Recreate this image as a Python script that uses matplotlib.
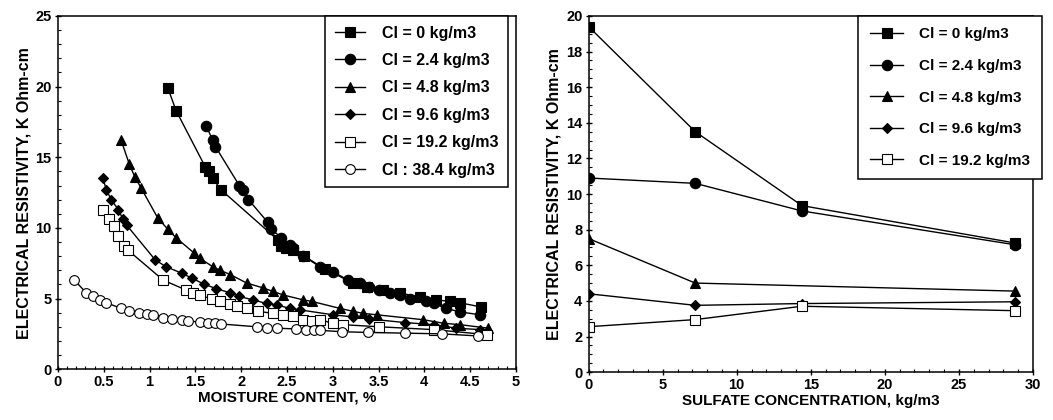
import matplotlib.pyplot as plt
from matplotlib.ticker import MultipleLocator

plt.rcParams['font.family'] = ['Liberation Sans', 'DejaVu Sans']
plt.rcParams['font.weight'] = 'bold'

# left panel: resistivity vs moisture content
x_cl0 = [1.20, 1.29, 1.61, 1.65, 1.69, 1.78, 2.40, 2.44, 2.49, 2.57, 2.69, 2.91, 3.22, 3.37,
         3.55, 3.73, 3.95, 4.13, 4.28, 4.39, 4.62]
y_cl0 = [19.9, 18.3, 14.3, 14.0, 13.5, 12.7, 9.15, 8.7, 8.6, 8.4, 8.0, 7.1, 6.1, 5.85,
         5.6, 5.4, 5.1, 4.9, 4.8, 4.7, 4.4]

x_cl24 = [1.62, 1.69, 1.72, 1.98, 2.02, 2.08, 2.29, 2.33, 2.44, 2.53, 2.57, 2.68, 2.86, 3.00,
          3.17, 3.30, 3.40, 3.51, 3.62, 3.73, 3.84, 4.02, 4.10, 4.24, 4.39, 4.61]
y_cl24 = [17.2, 16.2, 15.75, 13.0, 12.7, 12.0, 10.4, 9.9, 9.3, 8.8, 8.55, 8.0, 7.25, 6.9,
          6.3, 6.1, 5.85, 5.6, 5.4, 5.25, 5.0, 4.8, 4.65, 4.3, 4.05, 3.85]

x_cl48 = [0.69, 0.78, 0.84, 0.91, 1.09, 1.20, 1.29, 1.49, 1.55, 1.69, 1.77, 1.88, 2.06, 2.24,
          2.35, 2.46, 2.68, 2.77, 3.08, 3.22, 3.33, 3.48, 3.99, 4.21, 4.39, 4.70]
y_cl48 = [16.2, 14.5, 13.6, 12.8, 10.7, 9.9, 9.3, 8.2, 7.85, 7.25, 7.0, 6.7, 6.1, 5.75,
          5.5, 5.25, 4.9, 4.8, 4.3, 4.1, 3.95, 3.85, 3.5, 3.25, 3.15, 2.9]

x_cl96 = [0.49, 0.53, 0.58, 0.66, 0.71, 0.75, 1.06, 1.18, 1.35, 1.46, 1.60, 1.73, 1.88, 1.98,
          2.13, 2.28, 2.39, 2.53, 2.64, 3.00, 3.22, 3.40, 3.79, 4.10, 4.35, 4.61]
y_cl96 = [13.5, 12.7, 12.0, 11.3, 10.6, 10.2, 7.75, 7.25, 6.8, 6.45, 6.0, 5.7, 5.4, 5.15,
          4.9, 4.65, 4.55, 4.3, 4.2, 3.85, 3.7, 3.55, 3.3, 3.15, 2.9, 2.8]

x_cl192 = [0.49, 0.56, 0.61, 0.66, 0.72, 0.76, 1.15, 1.40, 1.47, 1.55, 1.68, 1.77, 1.88, 1.95,
           2.06, 2.18, 2.35, 2.46, 2.57, 2.68, 2.77, 2.86, 3.00, 3.11, 3.51, 4.10, 4.68]
y_cl192 = [11.3, 10.6, 10.1, 9.4, 8.7, 8.45, 6.3, 5.6, 5.4, 5.25, 4.95, 4.8, 4.6, 4.5,
           4.3, 4.1, 3.95, 3.85, 3.75, 3.5, 3.4, 3.5, 3.25, 3.15, 3.0, 2.8, 2.45]

x_cl384 = [0.18, 0.31, 0.38, 0.46, 0.53, 0.69, 0.78, 0.89, 0.97, 1.04, 1.15, 1.24, 1.35, 1.42,
           1.55, 1.64, 1.71, 1.78, 2.17, 2.28, 2.39, 2.60, 2.71, 2.79, 2.86, 3.10, 3.39, 3.79,
           4.19, 4.59]
y_cl384 = [6.3, 5.4, 5.15, 4.9, 4.7, 4.3, 4.15, 3.95, 3.9, 3.85, 3.6, 3.55, 3.45, 3.4,
           3.35, 3.3, 3.25, 3.2, 3.0, 2.95, 2.9, 2.85, 2.8, 2.75, 2.75, 2.65, 2.6, 2.55,
           2.5, 2.35]

# right panel: resistivity vs sulfate concentration
sulfate = [0, 7.2, 14.4, 28.8]
r_cl0 = [19.4, 13.5, 9.35, 7.25]
r_cl24 = [10.9, 10.6, 9.05, 7.15]
sulfate_cl48 = [0, 7.2, 28.8]
r_cl48 = [7.5, 5.0, 4.55]
r_cl96 = [4.4, 3.75, 3.85, 3.95]
r_cl192 = [2.55, 2.95, 3.7, 3.45]

labels = ['Cl = 0 kg/m3', 'Cl = 2.4 kg/m3', 'Cl = 4.8 kg/m3', 'Cl = 9.6 kg/m3',
          'Cl = 19.2 kg/m3', 'Cl : 38.4 kg/m3']

styles = [dict(marker='s', ms=7, mfc='black'),
          dict(marker='o', ms=7.5, mfc='black'),
          dict(marker='^', ms=6.5, mfc='black'),
          dict(marker='D', ms=4.8, mfc='black'),
          dict(marker='s', ms=7, mfc='white'),
          dict(marker='o', ms=7, mfc='white')]

fig = plt.figure(figsize=(10.53, 4.2), dpi=100)
ax1 = fig.add_axes([0.055, 0.121, 0.435, 0.841])
ax2 = fig.add_axes([0.559, 0.114, 0.422, 0.848])

left_x = [x_cl0, x_cl24, x_cl48, x_cl96, x_cl192, x_cl384]
left_y = [y_cl0, y_cl24, y_cl48, y_cl96, y_cl192, y_cl384]
for xs, ys, lab, st in zip(left_x, left_y, labels, styles):
    ax1.plot(xs, ys, color='black', lw=1, mec='black', mew=0.8, label=lab, **st)

right_x = [sulfate, sulfate, sulfate_cl48, sulfate, sulfate]
right_y = [r_cl0, r_cl24, r_cl48, r_cl96, r_cl192]
for xs, ys, lab, st in zip(right_x, right_y, labels[:5], styles[:5]):
    ax2.plot(xs, ys, color='black', lw=1, mec='black', mew=0.8, label=lab, **st)

ax1.set_xlim(0, 5)
ax1.set_ylim(0, 25)
ax1.xaxis.set_minor_locator(MultipleLocator(0.1))
ax1.yaxis.set_major_locator(MultipleLocator(5))
ax1.yaxis.set_minor_locator(MultipleLocator(1))
ax1.set_xticks([0, 0.5, 1, 1.5, 2, 2.5, 3, 3.5, 4, 4.5, 5])
ax1.set_xticklabels(['0', '0.5', '1', '1.5', '2', '2.5', '3', '3.5', '4', '4.5', '5'])
ax1.set_xlabel('MOISTURE CONTENT, %', fontsize=11, fontweight='bold', labelpad=1)
ax1.set_ylabel('ELECTRICAL RESISTIVITY, K Ohm-cm', fontsize=11.5, fontweight='bold', labelpad=3)

ax2.set_xlim(0, 30)
ax2.set_ylim(0, 20)
ax2.xaxis.set_major_locator(MultipleLocator(5))
ax2.xaxis.set_minor_locator(MultipleLocator(1))
ax2.yaxis.set_major_locator(MultipleLocator(2))
ax2.yaxis.set_minor_locator(MultipleLocator(0.5))
ax2.set_xlabel('SULFATE CONCENTRATION, kg/m3', fontsize=11, fontweight='bold', labelpad=1)
ax2.set_ylabel('ELECTRICAL RESISTIVITY, K Ohm-cm', fontsize=11.5, fontweight='bold', labelpad=3)

for ax in (ax1, ax2):
    ax.tick_params(which='major', direction='inout', length=5, width=1, labelsize=10.5, pad=2)
    ax.tick_params(which='minor', direction='in', length=2.5, width=0.8)
    for sp in ax.spines.values():
        sp.set_linewidth(1.1)
    for t in ax.get_xticklabels() + ax.get_yticklabels():
        t.set_fontweight('bold')

leg1 = ax1.legend(loc='upper right', bbox_to_anchor=(0.983, 1.0), borderaxespad=0,
                  fancybox=False, edgecolor='black', framealpha=1, handlelength=1.9,
                  labelspacing=0.78, borderpad=0.6, handletextpad=1.05,
                  prop=dict(weight='bold', size=11.5))
leg1.get_frame().set_linewidth(1.1)

leg2 = ax2.legend(loc='upper right', bbox_to_anchor=(1.02, 1.0), borderaxespad=0,
                  fancybox=False, edgecolor='black', framealpha=1, handlelength=2.2,
                  labelspacing=1.15, borderpad=0.75, handletextpad=1.05,
                  prop=dict(weight='bold', size=11))
leg2.get_frame().set_linewidth(1.1)

fig.savefig('out.png', dpi=100)
